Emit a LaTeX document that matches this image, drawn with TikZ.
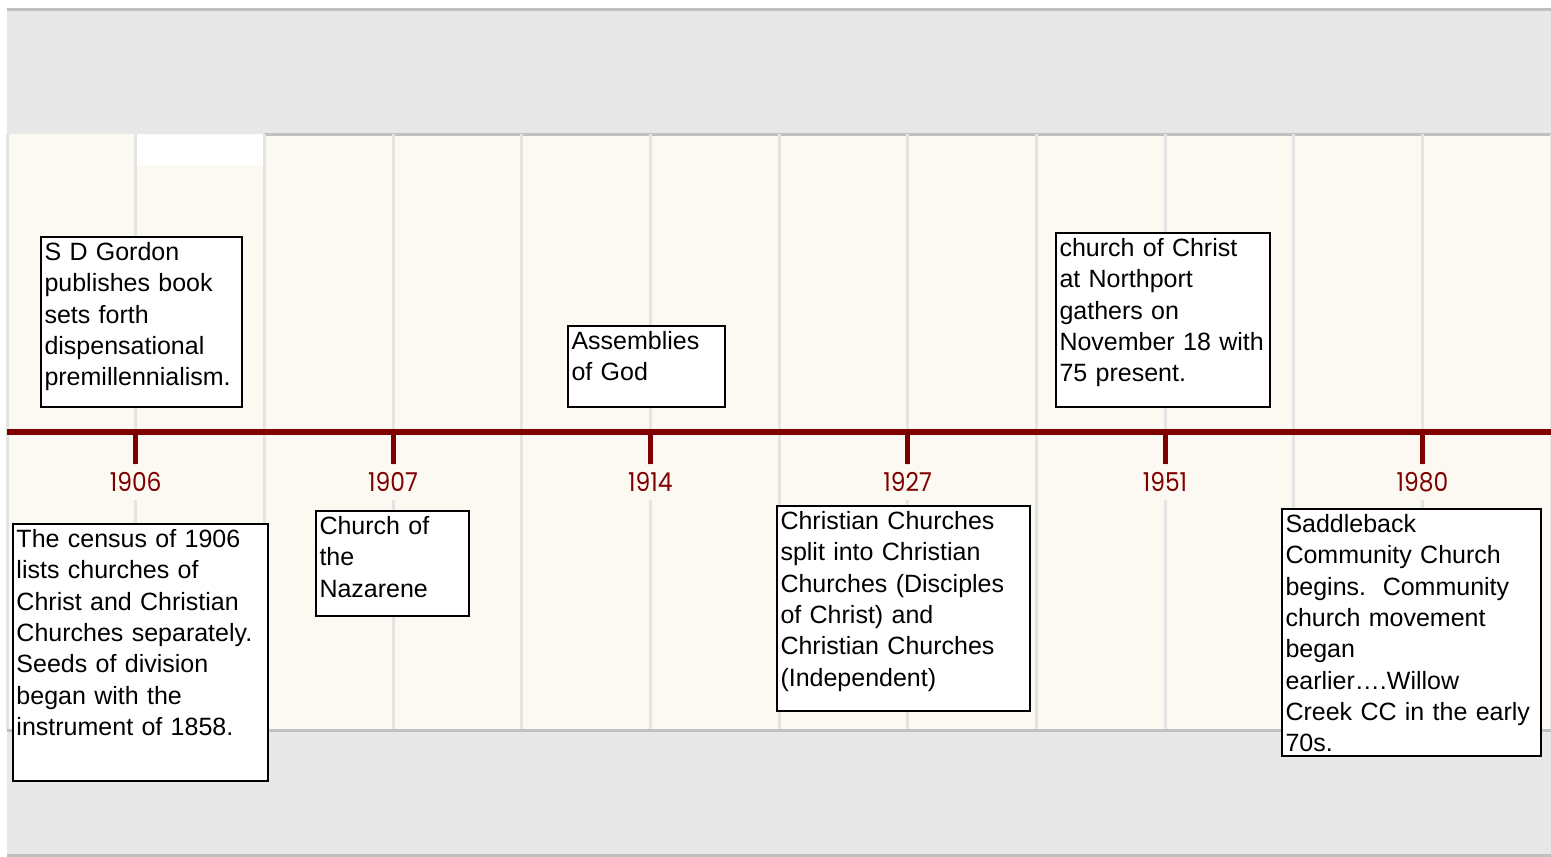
\documentclass[tikz,border=0pt]{standalone}
\usepackage{fontspec}
\usepackage{xcolor}
\usetikzlibrary{positioning}
\newfontfamily\boxfont{Liberation Sans}
\newfontfamily\yearfont[FakeStretch=0.9]{Poppins}
\definecolor{bandgray}{RGB}{232,232,232}
\definecolor{edgegray}{RGB}{192,192,192}
\definecolor{gridgray}{RGB}{228,228,228}
\definecolor{cream}{RGB}{252,249,242}
\definecolor{axisred}{RGB}{128,0,0}
\tikzstyle{event} = [rectangle, draw=black, line width=1pt, fill=white, anchor=north west, inner xsep=2pt, inner ysep=1.5pt, align=left, text height=10.5pt, font=\boxfont\fontsize{12.5}{15.65}\selectfont]
\tikzstyle{year} = [fill=cream, inner xsep=2pt, inner ysep=4pt, text height=9.5pt, text depth=0pt, text=axisred, font=\yearfont\fontsize{13}{15}\selectfont]
\tikzstyle{axis} = [axisred, line width=3pt]
\tikzstyle{tick} = [axisred, line width=2.5pt]
\tikzstyle{gridline} = [gridgray, line width=1.5pt]
\tikzstyle{edge} = [edgegray, line width=1.5pt]
\begin{document}
\begin{tikzpicture}[x=0.5pt, y=-0.5pt]
          \useasboundingbox (0,0) rectangle (1551,856);
          \fill[white] (0,0) rectangle (1551,856);
          \fill[bandgray] (7,11) rectangle (1551,134);
          \draw[edge] (7,9.5) -- (1551,9.5);
          \fill[cream] (7,134) rectangle (1551,730);
          \fill[white] (137,135) rectangle (263,165);
          \draw[edge] (264,134.5) -- (1551,134.5);
          \foreach \i in {0,...,12}
            \draw[gridline] ({7+128.67*\i},134) -- ({7+128.67*\i},730);
          \fill[bandgray] (7,731) rectangle (1551,855);
          \draw[edge] (7,730.5) -- (1551,730.5);
          \draw[edge] (7,855) -- (1551,855);

          \coordinate (axisL) at (7,432);
          \coordinate (axisR) at (1551,432);
          \draw[axis] (axisL) -- (axisR);

          \node (y1906) [year] at (135.67,482) {1906};
          \node (y1907) [year] at (393,482) {1907};
          \node (y1914) [year] at (650.3,482) {1914};
          \node (y1927) [year] at (907.7,482) {1927};
          \node (y1951) [year] at (1165,482) {1951};
          \node (y1980) [year] at (1422.4,482) {1980};
          \draw[tick] (y1906.north |- axisL) -- (y1906.north);
          \draw[tick] (y1907.north |- axisL) -- (y1907.north);
          \draw[tick] (y1914.north |- axisL) -- (y1914.north);
          \draw[tick] (y1927.north |- axisL) -- (y1927.north);
          \draw[tick] (y1951.north |- axisL) -- (y1951.north);
          \draw[tick] (y1980.north |- axisL) -- (y1980.north);

          \node (gordon) [event, text width=96.5pt, text depth=71.5pt] at (39.5,235.5) {S D Gordon\\publishes book\\sets forth\\dispensational\\premillennialism.};
          \node (census) [event, text width=123.5pt, text depth=115pt] at (11.5,522.5) {The census of 1906\\lists churches of\\Christ and Christian\\Churches separately.\\Seeds of division\\began with the\\instrument of 1858.};
          \node (nazarene) [event, text width=72.5pt, text depth=39pt] at (314.5,509.5) {Church of\\the\\Nazarene};
          \node (assemblies) [event, text width=74.5pt, text depth=27pt] at (566.5,324.5) {Assemblies\\of God};
          \node (split) [event, text width=122.5pt, text depth=89pt] at (775.5,504.5) {Christian Churches\\split into Christian\\Churches (Disciples\\of Christ) and\\Christian Churches\\(Independent)};
          \node (northport) [event, text width=103pt, text depth=73.5pt] at (1054.5,231.5) {church of Christ\\at Northport\\gathers on\\November 18 with\\75 present.};
          \node (saddleback) [event, text width=125.5pt, text depth=110pt] at (1280.5,507.5) {Saddleback\\Community Church\\begins.~~Community\\church movement\\began\\earlier….Willow\\Creek CC in the early\\70s.};
        \end{tikzpicture}
\end{document}
